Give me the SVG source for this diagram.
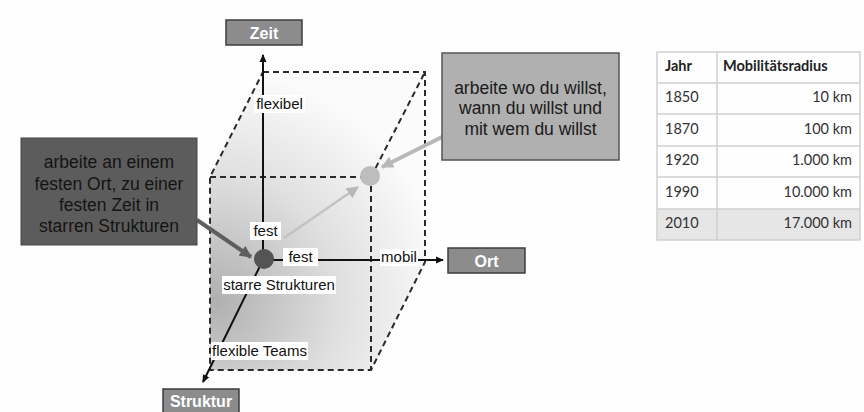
<svg xmlns="http://www.w3.org/2000/svg" width="864" height="412" viewBox="0 0 864 412">
<defs>
<radialGradient id="cubeGrad" gradientUnits="userSpaceOnUse" cx="215" cy="300" r="230">
<stop offset="0" stop-color="#b0b0b0"/>
<stop offset="0.55" stop-color="#e0e0e0"/>
<stop offset="1" stop-color="#fbfbfb"/>
</radialGradient>
<marker id="ahBlack" markerWidth="8" markerHeight="8" refX="7" refY="4" orient="auto" markerUnits="userSpaceOnUse">
<path d="M0,0.5 L8,4 L0,7.5 Z" fill="#111"/>
</marker>
<marker id="ahDark" markerWidth="12" markerHeight="12" refX="11" refY="6" orient="auto" markerUnits="userSpaceOnUse">
<path d="M0,0 L12,6 L0,12 Z" fill="#5e5e5e"/>
</marker>
<marker id="ahLight" markerWidth="12" markerHeight="12" refX="11" refY="6" orient="auto" markerUnits="userSpaceOnUse">
<path d="M0,0 L12,6 L0,12 Z" fill="#b8b8b8"/>
</marker>
<style>
.dash{fill:none;stroke:#2a2a2a;stroke-width:2;stroke-dasharray:6 4}
.axis{fill:none;stroke:#111;stroke-width:2}
.axbox{fill:#8c8c8c;stroke:#3c3c3c;stroke-width:1.5}
.axtxt{font-family:"Liberation Sans",Arial,sans-serif;font-size:16px;font-weight:bold;fill:#fff;text-anchor:middle}
.lbl{font-family:"Liberation Sans",Arial,sans-serif;font-size:15px;fill:#111;text-anchor:middle}
.lblbg{fill:#fff}
.note{font-family:"Liberation Sans",Arial,sans-serif;font-size:17.5px;fill:#1a1a1a;text-anchor:middle}
.notedark{fill:#141414}
.tb{font-family:Lato,"Liberation Sans",sans-serif;font-size:14.5px;fill:#333}
.tbh{font-family:Lato,"Liberation Sans",sans-serif;font-size:14.5px;font-weight:bold;fill:#222}
.grid{stroke:#cfcfcf;stroke-width:1.5;fill:none}
</style>
</defs>
<rect width="864" height="412" fill="#fefefe"/>

<g id="cube">
<polygon points="263,72 425,72 425,262 371,370 210,370 210,177" fill="url(#cubeGrad)"/>
<path class="dash" d="M263,72 H425 V262 L371,370 H210 V177 L263,72"/>
<path class="dash" d="M210,177 H371 V370"/>
<path class="dash" d="M371,177 L425,72"/>
</g>

<g id="connectors">
<line class="axis" x1="263" y1="258" x2="263" y2="55" marker-end="url(#ahBlack)"/>
<line class="axis" x1="263" y1="260" x2="443" y2="260" marker-end="url(#ahBlack)"/>
<line class="axis" x1="263" y1="260" x2="203" y2="382" marker-end="url(#ahBlack)"/>
<line x1="284" y1="238" x2="358" y2="187" stroke="#c2c2c2" stroke-width="2.5" marker-end="url(#ahLight)"/>
<line x1="442" y1="137" x2="382" y2="167" stroke="#b8b8b8" stroke-width="4" marker-end="url(#ahLight)"/>
<line x1="197" y1="220" x2="251" y2="257" stroke="#5e5e5e" stroke-width="4" marker-end="url(#ahDark)"/>
</g>

<g id="dot-origin"><circle cx="264" cy="259" r="10" fill="#545454"/></g>
<g id="dot-target"><circle cx="370" cy="176" r="10" fill="#bdbdbd"/></g>

<g id="axis-zeit">
<rect class="axbox" x="226" y="20" width="76" height="25"/>
<text class="axtxt" x="264" y="38.5">Zeit</text>
</g>
<g id="axis-ort">
<rect class="axbox" x="448" y="248" width="77" height="25"/>
<text class="axtxt" x="486.5" y="266.5">Ort</text>
</g>
<g id="axis-struktur">
<rect class="axbox" x="163" y="389" width="76" height="25"/>
<text class="axtxt" x="201" y="406.5">Struktur</text>
</g>

<g id="label-flexibel">
<rect class="lblbg" x="254" y="95" width="51" height="18"/>
<text class="lbl" x="279.5" y="109">flexibel</text>
</g>
<g id="label-fest-zeit">
<rect class="lblbg" x="250" y="222" width="31" height="18"/>
<text class="lbl" x="265.5" y="236">fest</text>
</g>
<g id="label-fest-ort">
<rect class="lblbg" x="283" y="248" width="35" height="18"/>
<text class="lbl" x="300.5" y="262">fest</text>
</g>
<g id="label-mobil">
<rect class="lblbg" x="380" y="249" width="38" height="17"/>
<text class="lbl" x="399" y="262">mobil</text>
</g>
<g id="label-starre">
<rect class="lblbg" x="222" y="276" width="114" height="18"/>
<text class="lbl" x="279" y="290">starre Strukturen</text>
</g>
<g id="label-flexible-teams">
<rect class="lblbg" x="211" y="342" width="97" height="18"/>
<text class="lbl" x="259.5" y="356">flexible Teams</text>
</g>

<g id="note-fixed">
<rect x="21" y="138" width="176" height="107" fill="#5c5c5c" stroke="#444" stroke-width="1"/>
<text class="note notedark" x="109" y="168">arbeite an einem</text>
<text class="note notedark" x="109" y="190">festen Ort, zu einer</text>
<text class="note notedark" x="109" y="211">festen Zeit in</text>
<text class="note notedark" x="109" y="232">starren Strukturen</text>
</g>

<g id="note-flexible">
<rect x="442" y="53" width="177" height="107" fill="#b0b0b0" stroke="#555" stroke-width="1.5"/>
<text class="note" x="530.5" y="94">arbeite wo du willst,</text>
<text class="note" x="530.5" y="114">wann du willst und</text>
<text class="note" x="530.5" y="135">mit wem du willst</text>
</g>

<g id="table">
<rect x="657" y="209" width="203" height="31" fill="#e6e6e6"/>
<rect class="grid" x="657" y="52" width="203" height="188"/>
<line class="grid" x1="717" y1="52" x2="717" y2="240"/>
<line class="grid" x1="657" y1="83" x2="860" y2="83"/>
<line class="grid" x1="657" y1="114" x2="860" y2="114"/>
<line class="grid" x1="657" y1="146" x2="860" y2="146"/>
<line class="grid" x1="657" y1="177" x2="860" y2="177"/>
<line class="grid" x1="657" y1="209" x2="860" y2="209"/>
<text class="tbh" x="665" y="71">Jahr</text>
<text class="tbh" x="723" y="71">Mobilitätsradius</text>
<text class="tb" x="665" y="102">1850</text>
<text class="tb" x="852" y="102" text-anchor="end">10 km</text>
<text class="tb" x="665" y="134">1870</text>
<text class="tb" x="852" y="134" text-anchor="end">100 km</text>
<text class="tb" x="665" y="165">1920</text>
<text class="tb" x="852" y="165" text-anchor="end">1.000 km</text>
<text class="tb" x="665" y="197">1990</text>
<text class="tb" x="852" y="197" text-anchor="end">10.000 km</text>
<text class="tb" x="665" y="228">2010</text>
<text class="tb" x="852" y="228" text-anchor="end">17.000 km</text>
</g>
</svg>
